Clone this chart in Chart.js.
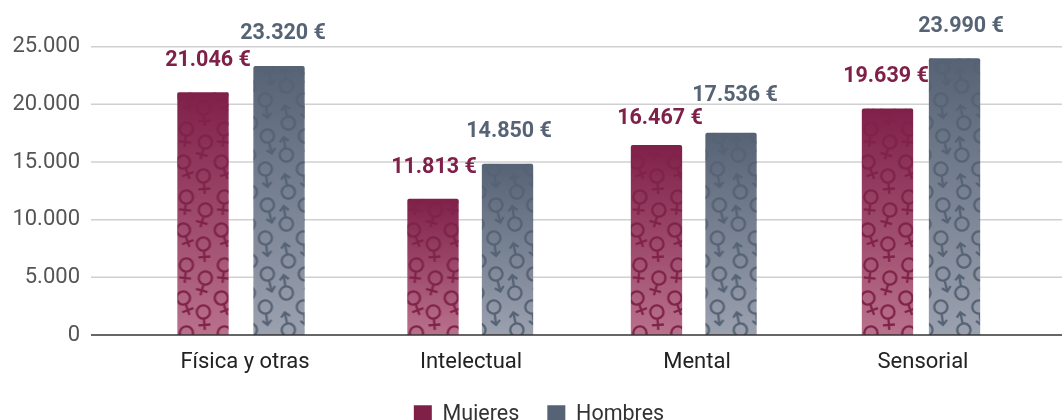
<!DOCTYPE html>
<html>
<head>
<meta charset="utf-8">
<style>
  html, body { margin: 0; padding: 0; background: #fff; overflow: hidden; }
  #wrap { width: 1062px; height: 420px; overflow: hidden; }
  #box { position: relative; width: 1062px; height: 435px; }
</style>
<script src="https://cdn.jsdelivr.net/npm/chart.js@4/dist/chart.umd.min.js"></script>
</head>
<body>
<div id="wrap"><div id="box"><canvas id="chart"></canvas></div></div>
<script>
const categories = ['Física y otras', 'Intelectual', 'Mental', 'Sensorial'];
const mujeres = [21046, 11813, 16467, 19639];
const hombres = [23320, 14850, 17536, 23990];
const yTicks = [0, 5000, 10000, 15000, 20000, 25000];

// desplazamientos a mano del original (px)
const mujeresShift = [-4.5, -0.5, -3, 2];
const hombresShift = [-3.5, -1, -3.5, -6];
const mujeresLift = [32, 31.5, 26, 32];
const hombresLift = [32, 32, 37, 32];

const WINE = '#7f2049';
const SLATE = '#566375';
const PLOT_TOP = 46.7;

function fmt(v) {
    return String(v).replace(/\B(?=(\d{3})+$)/g, '.');
}

function femaleSymbol(c, x, y, tilt) {
    c.save();
    c.translate(x, y);
    c.rotate(tilt);
    c.beginPath();
    c.arc(0, 0, 6.6, 0, Math.PI * 2);
    c.moveTo(0, 6.6);
    c.lineTo(0, 18);
    c.moveTo(-6, 13);
    c.lineTo(6, 13);
    c.stroke();
    c.restore();
}

function maleSymbol(c, x, y, tilt) {
    c.save();
    c.translate(x, y);
    c.rotate(tilt);
    c.beginPath();
    c.arc(0, 0, 6.6, 0, Math.PI * 2);
    c.moveTo(0, 6.6);
    c.lineTo(0, 18);
    c.moveTo(-4.5, 13.5);
    c.lineTo(0, 18);
    c.lineTo(4.5, 13.5);
    c.stroke();
    c.restore();
}

// baldosa con los simbolos, y medida desde la base de la barra
function makeTile(w, h, color, symbol, marks) {
    const tile = document.createElement('canvas');
    tile.width = w;
    tile.height = h;
    const c = tile.getContext('2d');
    c.strokeStyle = color;
    c.lineWidth = 2.3;
    marks.forEach(m => {
        for (let i = -1; i <= 1; i++) {
            for (let j = -2; j <= 2; j++) {
                symbol(c, m[0] + i * w, h + m[1] + j * h, m[2]);
            }
        }
    });
    return tile;
}

const femaleTile = makeTile(38, 68, '#80234a', femaleSymbol, [
    [9, -70, 0.1], [6, -37, -0.35], [28, -57, 0.28], [26, -23, -0.08]
]);
const maleTile = makeTile(38, 69, '#566375', maleSymbol, [
    [14, -61, -0.25], [12, -28, -0.12], [33, -42, Math.PI - 0.15], [35, -5, Math.PI - 0.2]
]);

function fill(solid, light) {
    return function (ctx) {
        if (ctx.type !== 'data') return solid;
        const y = ctx.chart.scales.y;
        const top = y.getPixelForValue(ctx.dataset.data[ctx.dataIndex]);
        const bottom = y.getPixelForValue(0);
        if (!isFinite(top) || !isFinite(bottom)) return solid;
        const g = ctx.chart.ctx.createLinearGradient(0, top, 0, bottom);
        g.addColorStop(0, solid);
        g.addColorStop(1, light);
        return g;
    };
}

// lineas de la rejilla: en el original pasan mas alla de las categorias
const gridPlugin = {
    id: 'wideGrid',
    beforeDatasetsDraw(chart) {
        const c = chart.ctx;
        const y = chart.scales.y;
        c.save();
        c.lineWidth = 1.5;
        yTicks.forEach(t => {
            if (t === 0) return;
            c.strokeStyle = '#d0d0d0';
            c.beginPath();
            c.moveTo(91, y.getPixelForValue(t));
            c.lineTo(chart.width, y.getPixelForValue(t));
            c.stroke();
        });
        c.restore();
    },
    afterDatasetsDraw(chart) {
        const c = chart.ctx;
        const y0 = chart.scales.y.getPixelForValue(0);
        c.save();
        c.strokeStyle = '#333333';
        c.lineWidth = 1.5;
        c.beginPath();
        c.moveTo(91, y0);
        c.lineTo(chart.width, y0);
        c.stroke();
        c.restore();
    }
};

const barPlugin = {
    id: 'barExtras',
    afterLayout(chart) {
        // la leyenda no esta centrada en el lienzo
        chart.legend.left += 16;
        chart.legend.right += 16;
        // el layout deja demasiado aire arriba, se fija a mano
        const y = chart.scales.y;
        y.top = PLOT_TOP;
        y.height = y.bottom - y.top;
        y.configure();
        chart.chartArea.top = PLOT_TOP;
        chart.chartArea.height = y.height;
    },
    afterDatasetsUpdate(chart) {
        [mujeresShift, hombresShift].forEach((shift, d) => {
            chart.getDatasetMeta(d).data.forEach((bar, i) => {
                bar.labelX = bar.x;
                bar.x += shift[i];
            });
        });
    },
    afterDatasetDraw(chart, args) {
        const c = chart.ctx;
        const tile = args.index === 0 ? femaleTile : maleTile;
        args.meta.data.forEach(bar => {
            const left = bar.x - bar.width / 2;
            const pattern = c.createPattern(tile, 'repeat');
            pattern.setTransform(new DOMMatrix().translate(left, bar.base - tile.height));
            c.save();
            c.beginPath();
            c.rect(left, bar.y, bar.width, bar.base - bar.y);
            c.clip();
            c.fillStyle = pattern;
            c.fillRect(left, bar.y, bar.width, bar.base - bar.y);
            c.restore();
        });
    },
    afterDraw(chart) {
        const c = chart.ctx;
        c.save();
        c.font = 'bold 21.5px Roboto';
        c.textAlign = 'center';
        c.textBaseline = 'middle';
        [[mujeres, mujeresLift, WINE], [hombres, hombresLift, SLATE]].forEach((s, d) => {
            chart.getDatasetMeta(d).data.forEach((bar, i) => {
                c.fillStyle = s[2];
                c.fillText(fmt(s[0][i]) + ' €', bar.labelX + 0.5, bar.y - s[1][i]);
            });
        });
        c.restore();
    }
};

new Chart(document.getElementById('chart'), {
    type: 'bar',
    data: {
        labels: categories,
        datasets: [
            { label: 'Mujeres', data: mujeres, backgroundColor: fill(WINE, '#b9718c') },
            { label: 'Hombres', data: hombres, backgroundColor: fill(SLATE, '#9ba1af') }
        ]
    },
    plugins: [gridPlugin, barPlugin],
    options: {
        responsive: true,
        maintainAspectRatio: false,
        animation: false,
        layout: { autoPadding: false, padding: { top: 4, left: 10, right: 26, bottom: 0 } },
        categoryPercentage: 0.664,
        barPercentage: 0.684,
        borderRadius: { topLeft: 2, topRight: 2, bottomLeft: 0, bottomRight: 0 },
        borderSkipped: 'bottom',
        plugins: {
            tooltip: { enabled: false },
            legend: {
                position: 'bottom',
                labels: {
                    boxWidth: 18,
                    boxHeight: 18,
                    padding: 28,
                    color: '#333333',
                    font: { family: 'Roboto', size: 21.5 },
                    generateLabels(chart) {
                        const solid = [WINE, SLATE];
                        return Chart.defaults.plugins.legend.labels.generateLabels(chart).map((item, i) => {
                            item.fillStyle = solid[i];
                            item.strokeStyle = solid[i];
                            item.lineWidth = 0;
                            return item;
                        });
                    }
                }
            }
        },
        scales: {
            x: {
                grid: { display: false },
                border: { display: false },
                ticks: {
                    color: '#222222',
                    maxRotation: 0,
                    padding: 6,
                    font: { family: 'Roboto', size: 22 }
                },
                afterFit: s => { s.height = 40.5; }
            },
            y: {
                min: 0,
                max: 25000,
                grid: { display: false },
                border: { display: false },
                afterFit: s => { s.width = 122; },
                afterBuildTicks: s => { s.ticks = yTicks.map(v => ({ value: v })); },
                ticks: {
                    color: '#555555',
                    padding: 44,
                    callback: v => fmt(v),
                    font: { family: 'Roboto', size: 22 }
                }
            }
        }
    }
});
</script>
</body>
</html>
